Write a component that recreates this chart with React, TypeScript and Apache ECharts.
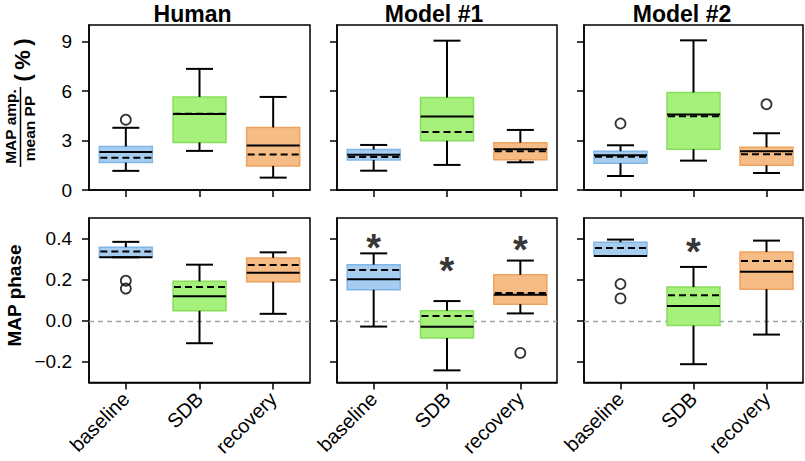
import React, { useEffect, useRef } from "react";
import * as echarts from "echarts";

const categories = ["baseline", "SDB", "recovery"];
const panelTitles = ["Human", "Model #1", "Model #2"];

// each box: [low whisker, Q1, median, Q3, high whisker, mean]
const ampHuman = [
  [1.16, 1.66, 2.31, 2.64, 3.77, 1.95],
  [2.37, 2.88, 4.6, 5.64, 7.34, 4.62],
  [0.75, 1.46, 2.7, 3.79, 5.64, 2.15],
];
const ampModel1 = [
  [1.17, 1.82, 2.13, 2.45, 2.73, 2.0],
  [1.52, 2.98, 4.45, 5.61, 9.05, 3.52],
  [1.68, 1.84, 2.47, 2.87, 3.64, 2.35],
];
const ampModel2 = [
  [0.85, 1.62, 2.1, 2.35, 2.71, 2.02],
  [1.78, 2.47, 4.57, 5.91, 9.07, 4.47],
  [1.03, 1.5, 2.35, 2.59, 3.44, 2.17],
];
const phaseHuman = [
  [0.309, 0.309, 0.309, 0.358, 0.384, 0.337],
  [-0.109, 0.049, 0.119, 0.192, 0.273, 0.164],
  [0.034, 0.19, 0.234, 0.306, 0.333, 0.272],
];
const phaseModel1 = [
  [-0.028, 0.151, 0.202, 0.273, 0.328, 0.247],
  [-0.241, -0.083, -0.029, 0.049, 0.096, 0.024],
  [0.036, 0.081, 0.127, 0.224, 0.293, 0.135],
];
const phaseModel2 = [
  [0.315, 0.315, 0.315, 0.382, 0.395, 0.354],
  [-0.211, -0.023, 0.072, 0.164, 0.262, 0.124],
  [-0.067, 0.154, 0.239, 0.335, 0.39, 0.291],
];

// outliers: [category index, value]
const ampOutHuman = [[0, 4.26]];
const ampOutModel1: number[][] = [];
const ampOutModel2 = [[0, 4.03], [2, 5.2]];
const phaseOutHuman = [[0, 0.195], [0, 0.157]];
const phaseOutModel1 = [[2, -0.156]];
const phaseOutModel2 = [[0, 0.179], [0, 0.109]];

// significance stars: [category index, value]
const phaseStarsHuman: number[][] = [];
const phaseStarsModel1 = [[0, 0.4], [1, 0.285], [2, 0.387]];
const phaseStarsModel2 = [[1, 0.378]];

const ampTicks = [0, 3, 6, 9];
const phaseTicks = [-0.2, 0, 0.2, 0.4];

const FONT = '"Liberation Sans", Arial, Helvetica, sans-serif';
const fills = ["#a6ccf0", "#a6f07c", "#f5bc86"];
const strokes = ["#80b6e6", "#88de5c", "#eea25f"];

const gridLefts = [89, 337, 584];
const gridWidths = [221, 220, 219];
const gridTops = [25, 218];
const gridHeights = [165, 164.5];

export default function App() {
  const ref = useRef<HTMLDivElement>(null);
  useEffect(() => {
    if (!ref.current) return;
    const chart = echarts.init(ref.current, undefined, { renderer: "svg" });
    const ampData = [ampHuman, ampModel1, ampModel2];
    const phaseData = [phaseHuman, phaseModel1, phaseModel2];
    const ampOut = [ampOutHuman, ampOutModel1, ampOutModel2];
    const phaseOut = [phaseOutHuman, phaseOutModel1, phaseOutModel2];
    const phaseStars = [phaseStarsHuman, phaseStarsModel1, phaseStarsModel2];

    const grids: any[] = [];
    const xAxes: any[] = [];
    const yAxes: any[] = [];
    const series: any[] = [];

    const renderItem = (params: any, api: any) => {
      const ci = api.value(0);
      const lo = api.value(1), q1 = api.value(2), med = api.value(3);
      const q3 = api.value(4), hi = api.value(5), mean = api.value(6);
      const cx = api.coord([ci, med])[0];
      const y = (v: number) => api.coord([ci, v])[1];
      const bw = 53, cw = 27;
      const blk = { stroke: "#000", lineWidth: 2 };
      return {
        type: "group",
        children: [
          {
            type: "rect",
            shape: { x: cx - bw / 2, y: y(q3), width: bw, height: y(q1) - y(q3) },
            style: { fill: fills[params.dataIndex], stroke: strokes[params.dataIndex], lineWidth: 1.5 },
          },
          { type: "line", shape: { x1: cx, y1: y(q3), x2: cx, y2: y(hi) }, style: blk },
          { type: "line", shape: { x1: cx - cw / 2, y1: y(hi), x2: cx + cw / 2, y2: y(hi) }, style: blk },
          { type: "line", shape: { x1: cx, y1: y(q1), x2: cx, y2: y(lo) }, style: blk },
          { type: "line", shape: { x1: cx - cw / 2, y1: y(lo), x2: cx + cw / 2, y2: y(lo) }, style: blk },
          { type: "line", shape: { x1: cx - bw / 2, y1: y(med), x2: cx + bw / 2, y2: y(med) }, style: blk },
          {
            type: "line",
            shape: { x1: cx - bw / 2 + 1, y1: y(mean), x2: cx + bw / 2, y2: y(mean) },
            style: { stroke: "#000", lineWidth: 2, lineDash: [7, 4] },
          },
        ],
      };
    };

    for (let r = 0; r < 2; r++) {
      for (let c = 0; c < 3; c++) {
        const g = r * 3 + c;
        grids.push({
          left: gridLefts[c],
          top: gridTops[r],
          width: gridWidths[c],
          height: gridHeights[r],
          show: true,
          borderColor: "#000",
          borderWidth: 1.5,
          backgroundColor: "transparent",
        });
        xAxes.push({
          type: "category",
          gridIndex: g,
          data: categories,
          boundaryGap: true,
          position: "bottom",
          axisLine: { show: true, onZero: false, lineStyle: { color: "#000", width: 1.5 } },
          axisTick: { show: true, alignWithLabel: true, length: 7, lineStyle: { color: "#000", width: 1.5 } },
          axisLabel:
            r === 1
              ? { show: true, rotate: 45, fontSize: 20, color: "#000", margin: 13, fontFamily: FONT, interval: 0 }
              : { show: false, interval: 0 },
          splitLine: { show: false },
        });
        const ticks = r === 0 ? ampTicks : phaseTicks;
        yAxes.push({
          type: "value",
          gridIndex: g,
          min: r === 0 ? 0 : -0.3,
          max: r === 0 ? 10 : 0.5,
          axisLine: { show: true, onZero: false, lineStyle: { color: "#000", width: 1.5 } },
          axisTick: { show: true, length: 7, lineStyle: { color: "#000", width: 1.5 }, customValues: ticks },
          axisLabel: {
            show: c === 0,
            customValues: ticks,
            fontSize: 19,
            color: "#000",
            margin: 17,
            fontFamily: FONT,
            formatter: (v: number) =>
              r === 0 ? String(Math.round(v)) : v < -1e-9 ? "\u2212" + Math.abs(v).toFixed(1) : Math.abs(v).toFixed(1),
          },
          splitLine: { show: false },
        });
        const boxes = r === 0 ? ampData[c] : phaseData[c];
        if (r === 1) {
          series.push({
            type: "line",
            xAxisIndex: g,
            yAxisIndex: g,
            data: [],
            z: 1,
            markLine: {
              silent: true,
              symbol: ["none", "none"],
              label: { show: false },
              lineStyle: { color: "#98a6a3", type: [5, 4], width: 1.4 },
              data: [{ yAxis: 0 }],
            },
          });
        }
        series.push({
          type: "custom",
          xAxisIndex: g,
          yAxisIndex: g,
          z: 5,
          data: boxes.map((b, i) => [i, ...b]),
          encode: { x: 0, y: [1, 2, 3, 4, 5, 6] },
          renderItem,
        });
        series.push({
          type: "scatter",
          xAxisIndex: g,
          yAxisIndex: g,
          z: 6,
          symbol: "circle",
          symbolSize: 10,
          itemStyle: { color: "rgba(255,255,255,0)", borderColor: "#000", borderWidth: 1.8 },
          data: r === 0 ? ampOut[c] : phaseOut[c],
        });
        if (r === 1 && phaseStars[c].length) {
          series.push({
            type: "scatter",
            xAxisIndex: g,
            yAxisIndex: g,
            z: 6,
            symbol: "circle",
            symbolSize: 1,
            itemStyle: { color: "rgba(0,0,0,0)" },
            label: {
              show: true,
              position: "inside",
              formatter: "*",
              fontSize: 38,
              fontWeight: "bold",
              color: "#000",
              fontFamily: FONT,
              offset: [0, 9],
            },
            data: phaseStars[c],
          });
        }
      }
    }

    const titleCenters = [192.5, 434, 682];
    const graphic: any[] = titleCenters.map((x, i) => ({
      type: "text",
      x,
      y: 13.5,
      style: {
        text: panelTitles[i],
        fontSize: 23,
        fontWeight: "bold",
        fontFamily: FONT,
        fill: "#000",
        align: "center",
        verticalAlign: "middle",
      },
    }));
    const rot = (text: string, x: number, y: number, size: number) => ({
      type: "text",
      x,
      y,
      rotation: Math.PI / 2,
      style: {
        text,
        fontSize: size,
        fontWeight: "bold",
        fontFamily: FONT,
        fill: "#000",
        align: "center",
        verticalAlign: "middle",
      },
    });
    graphic.push(rot("MAP amp.", 10, 126.5, 15.5));
    graphic.push(rot("mean PP", 29.5, 128.5, 15.5));
    graphic.push(rot("(\u2009%\u2009)", 22, 60, 22));
    graphic.push({
      type: "line",
      shape: { x1: 20.5, y1: 87, x2: 20.5, y2: 167 },
      style: { stroke: "#000", lineWidth: 1.5 },
    });
    graphic.push(rot("MAP phase", 14.5, 295.5, 19));

    chart.setOption({
      animation: false,
      backgroundColor: "#fff",
      grid: grids,
      xAxis: xAxes,
      yAxis: yAxes,
      series,
      graphic,
    });
    return () => chart.dispose();
  }, []);
  return <div ref={ref} style={{ position: "fixed", left: 0, top: 0, width: 805, height: 461 }} />;
}
